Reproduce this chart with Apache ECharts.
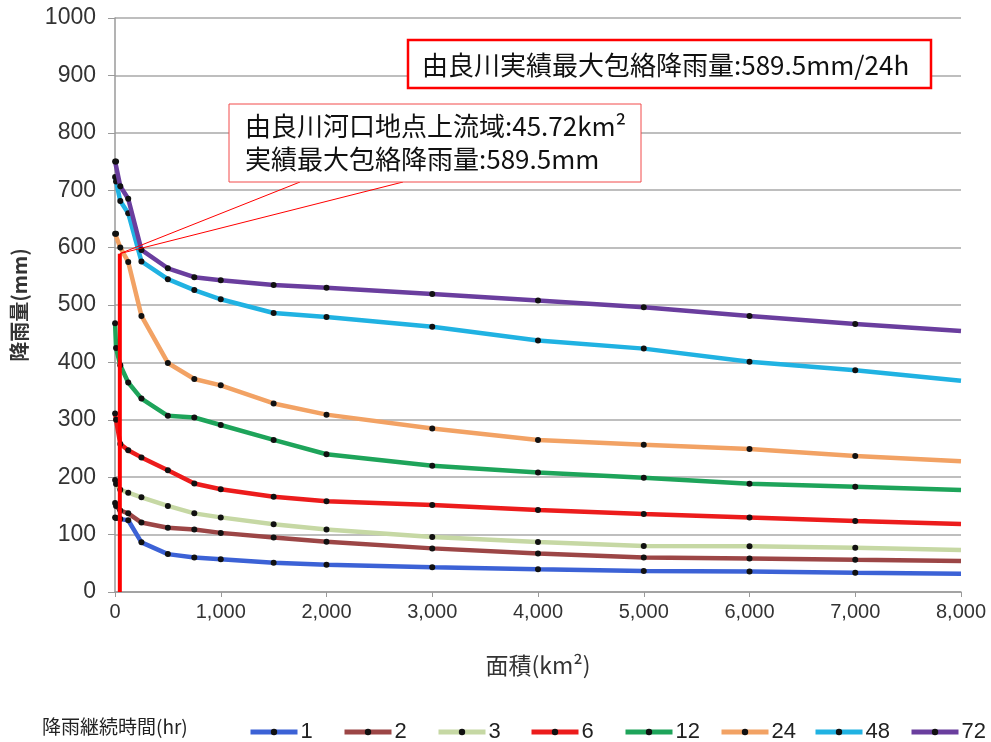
<!DOCTYPE html>
<html>
<head>
<meta charset="utf-8">
<script src="https://cdn.jsdelivr.net/npm/echarts@6/dist/echarts.min.js"></script>
<style>
  html, body { margin: 0; padding: 0; background: #ffffff; }
  #chart { width: 991px; height: 742px; }
</style>
</head>
<body>
<div id="chart"></div>
<script>
// Depth-area-duration curves: rainfall depth (mm) against catchment area (km²)
const areas = [1, 10, 50, 125, 250, 500, 750, 1000, 1500, 2000, 3000, 4000, 5000, 6000, 7000, 8000];

const durations = ['1', '2', '3', '6', '12', '24', '48', '72'];

const rain1h  = [130, 129, 127, 125, 86.5, 66, 60, 57, 51, 47.5, 43, 39.5, 36.5, 35.5, 33.5, 32];
const rain2h  = [155, 150, 142, 137, 121, 112, 109, 103, 95, 87.5, 76, 67, 60, 58.5, 56, 54];
const rain3h  = [195, 188, 178, 173, 165, 150, 137, 130, 118, 109, 96, 87, 80, 79.5, 77, 73];
const rain6h  = [311, 300, 258, 247, 234.5, 212, 189, 179, 166, 158, 151.5, 143, 136, 130, 123.5, 118.5];
const rain12h = [468, 425, 395, 365, 337, 307, 304, 291, 265, 240, 220, 208, 199, 188.5, 183.5, 177.5];
const rain24h = [624, 624, 600, 575, 481, 399, 371, 360, 328.5, 309, 285, 265, 256.5, 249, 237, 228];
const rain48h = [723, 715, 681, 660, 576, 545, 526, 510, 486, 479, 462, 438, 424, 401, 386.5, 368];
const rain72h = [750, 750, 707, 685, 596, 564, 548.5, 543, 535, 530, 519, 508, 496, 481, 467, 454.5];

const seriesValues = [rain1h, rain2h, rain3h, rain6h, rain12h, rain24h, rain48h, rain72h];
const seriesColors = ['#3c62d6', '#9c4646', '#c6d8a4', '#ec1c1c', '#1ea45a', '#f2a264', '#20b2e2', '#6a3e9e'];

// Record at the Yura River mouth
const basinArea = 45.72;
const recordRain = 589.5;
const noteTop = '由良川実績最大包絡降雨量:589.5mm/24h';
const noteLine1 = '由良川河口地点上流域:45.72km²';
const noteLine2 = '実績最大包絡降雨量:589.5mm';
const legendTitle = '降雨継続時間(hr)';

const numFont = '"Liberation Sans", Arial, sans-serif';
const cjkFont = '"Noto Sans CJK JP", "Liberation Sans", sans-serif';

// Left edge of each legend entry
const legendLefts = [243, 337, 431, 524, 618, 714, 808, 904];

const chart = echarts.init(document.getElementById('chart'), null, { renderer: 'canvas' });

const lastIdx = areas.length - 1;
const curveSeries = durations.map((name, i) => ({
  name: name,
  type: 'line',
  data: areas.map((a, j) => [a, seriesValues[i][j]]),
  symbol: 'circle',
  symbolSize: (val, params) => (params.dataIndex === lastIdx ? 0 : 6),
  showAllSymbol: true,
  lineStyle: { color: seriesColors[i], width: 4.5 },
  itemStyle: { color: '#111111' },
  z: 2 + i,
  animation: false
}));

// Vertical marker at the basin area, with the arrow pointing to the depth axis
curveSeries.push({
  name: 'record',
  type: 'line',
  data: [[basinArea, 0], [basinArea, recordRain]],
  symbol: 'none',
  lineStyle: { color: '#ff0000', width: 4 },
  clip: false,
  silent: true,
  z: 20,
  animation: false,
  markLine: {
    silent: true,
    symbol: ['none', 'arrow'],
    symbolSize: [9, 9],
    label: { show: false },
    lineStyle: { color: '#ff0000', width: 1.2, type: 'solid' },
    data: [[{ coord: [basinArea, recordRain] }, { coord: [-65, recordRain] }]],
    animation: false
  }
});

const option = {
  backgroundColor: '#ffffff',
  animation: false,
  grid: { left: 115, right: 30, top: 18, bottom: 150, containLabel: false, outerBoundsMode: 'none' },
  xAxis: {
    type: 'value',
    min: 0, max: 8000, interval: 1000,
    name: '面積(km²)',
    nameLocation: 'middle',
    nameGap: 62,
    nameTextStyle: { fontSize: 23, fontFamily: cjkFont, color: '#333' },
    axisLine: { show: true, lineStyle: { color: '#9a9a9a', width: 1.5 } },
    axisTick: { show: true, length: 5, lineStyle: { color: '#9a9a9a' } },
    splitLine: { show: false },
    axisLabel: {
      fontSize: 20, fontFamily: numFont, color: '#333', margin: 10,
      formatter: v => v.toLocaleString('en-US')
    }
  },
  yAxis: {
    type: 'value',
    min: 0, max: 1000, interval: 100,
    name: '降雨量(mm)',
    nameLocation: 'middle',
    nameRotate: 90,
    nameGap: 86,
    nameTextStyle: { fontSize: 20, fontWeight: 'bold', fontFamily: cjkFont, color: '#333' },
    axisLine: { show: true, lineStyle: { color: '#9a9a9a', width: 1.5 } },
    axisTick: { show: true, length: 7, lineStyle: { color: '#9a9a9a' } },
    splitLine: { show: true, lineStyle: { color: '#a8a8a8', width: 1.5 } },
    axisLabel: { fontSize: 23, fontFamily: numFont, color: '#333', margin: 19, formatter: v => String(v) }
  },
  legend: durations.map((d, i) => ({
    data: [d],
    left: legendLefts[i],
    top: 716,
    itemWidth: 47,
    itemHeight: 8,
    lineStyle: { width: 5 },
    textStyle: { fontSize: 22, fontFamily: numFont, color: '#222', padding: [0, 0, 0, -2] }
  })),
  series: curveSeries
};

chart.setOption(option);

// Annotation boxes and the callout pointer toward the recorded point
const anchor = chart.convertToPixel({ gridIndex: 0 }, [basinArea, recordRain]);

chart.setOption({
  graphic: [
    {
      type: 'rect', z: 30,
      shape: { x: 408, y: 40, width: 523, height: 48 },
      style: { fill: '#ffffff', stroke: '#ff0000', lineWidth: 2.5 }
    },
    {
      type: 'text', z: 31,
      style: { text: noteTop, x: 422, y: 65, verticalAlign: 'middle', fontSize: 26, fontFamily: cjkFont, fill: '#111' }
    },
    {
      type: 'polyline', z: 29,
      shape: { points: [[300, 182], anchor, [403, 182]] },
      style: { stroke: '#ff0000', lineWidth: 1, fill: null }
    },
    {
      type: 'rect', z: 30,
      shape: { x: 229, y: 104, width: 412, height: 78 },
      style: { fill: '#ffffff', stroke: '#f24a4a', lineWidth: 1 }
    },
    {
      type: 'text', z: 31,
      style: { text: noteLine1, x: 245, y: 126, verticalAlign: 'middle', fontSize: 26, fontFamily: cjkFont, fill: '#111' }
    },
    {
      type: 'text', z: 31,
      style: { text: noteLine2, x: 245, y: 159, verticalAlign: 'middle', fontSize: 26, fontFamily: cjkFont, fill: '#111' }
    },
    {
      type: 'text', z: 31,
      style: { text: legendTitle, x: 42, y: 727, verticalAlign: 'middle', fontSize: 19, fontFamily: cjkFont, fill: '#222' }
    }
  ]
});
</script>
</body>
</html>
